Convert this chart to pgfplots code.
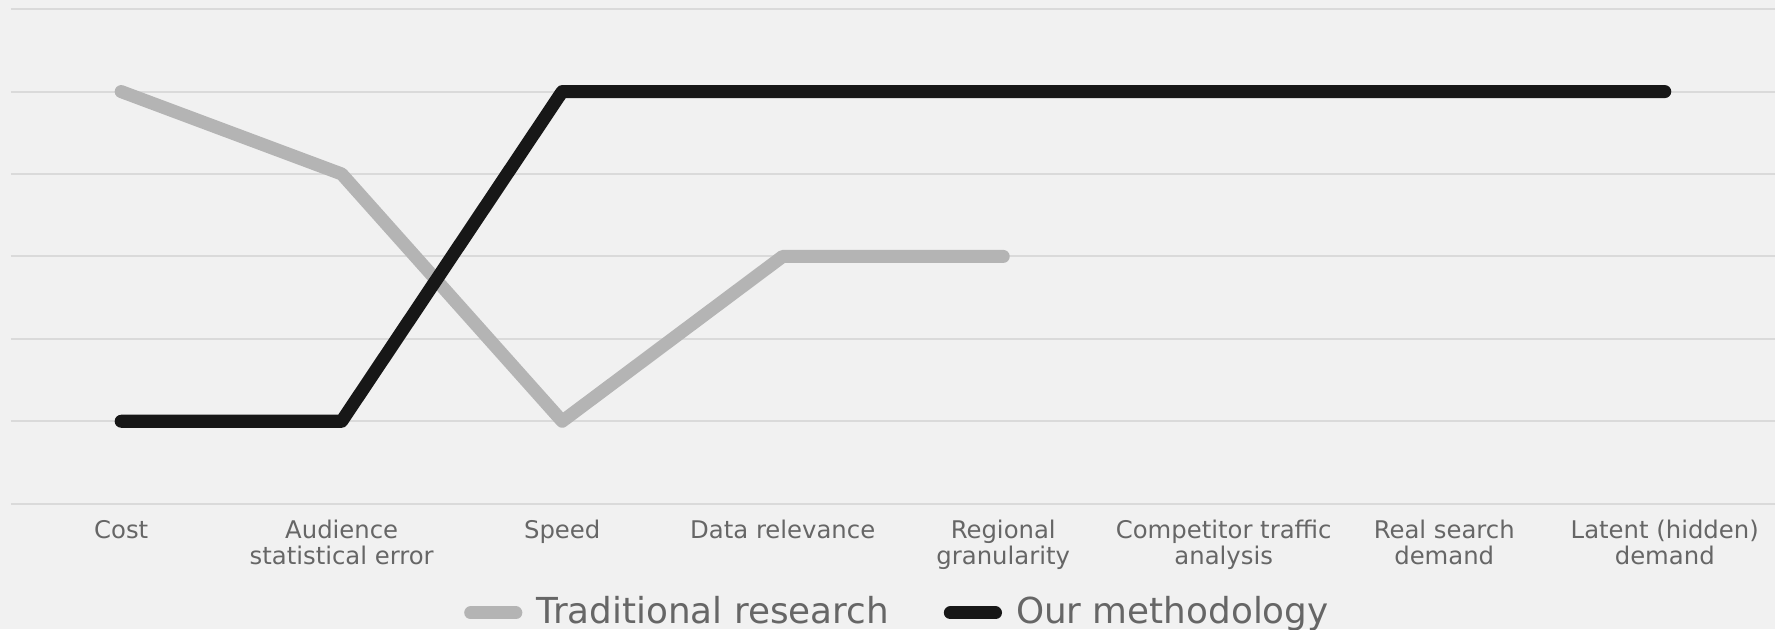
\documentclass[border=0pt]{standalone}
\usepackage{fontspec}
\setmainfont{DejaVu Sans}
\usepackage{pgfplots}
\pgfplotsset{compat=1.18}
\usetikzlibrary{calc,backgrounds}
\definecolor{bg}{HTML}{F1F1F1}
\definecolor{gridc}{HTML}{DADADA}
\definecolor{trad}{HTML}{B4B4B4}
\definecolor{ours}{HTML}{171717}
\definecolor{txt}{HTML}{666666}
\begin{document}
\begin{tikzpicture}
\begin{axis}[
  name=ax, at={(0,0)}, anchor=south west,
  scale only axis, width=500.5pt, height=140.3pt,
  xmin=-0.5, xmax=7.5, ymin=0, ymax=6,
  xtick={0,...,7},
  xticklabels={Cost,{Audience\\statistical error},Speed,Data relevance,{Regional\\granularity},{Competitor traffic\\analysis},{Real search\\demand},{Latent (hidden)\\demand}},
  ytick={0,...,6}, yticklabels={},
  ymajorgrids, grid style={gridc, line width=0.6pt},
  axis line style={draw=none}, major tick length=0pt,
  xticklabel style={align=center, font=\fontsize{6.9}{7.4}\selectfont, text=txt, inner sep=0pt, yshift=-4.5pt},
  legend columns=2,
  legend style={draw=none, fill=none, at={(0.504,-0.221)}, anchor=center, font=\fontsize{10.15}{10.5}\selectfont, text=txt, inner sep=0pt,
    /tikz/every even column/.append style={column sep=13.6pt}},
  legend image code/.code={\draw[#1, line cap=round] (1.85pt,0pt) -- (14.65pt,0pt); \path[draw=none, fill=none, line width=0pt] (0pt,0pt) -- (18.5pt,0pt);},
]
\addplot[trad, line width=3.7pt, line cap=round, line join=round] coordinates {(0,5) (1,4) (2,1) (3,3) (4,3)};
\addlegendentry{Traditional research}
\addplot[ours, line width=3.7pt, line cap=round, line join=round] coordinates {(0,1) (1,1) (2,5) (3,5) (4,5) (5,5) (6,5) (7,5)};
\addlegendentry{Our methodology}
\end{axis}
\begin{scope}[on background layer]
\fill[bg] ($(ax.south west)+(-3.1pt,-35.6pt)$) rectangle ($(ax.north east)+(0,2.6pt)$);
\end{scope}
\pgfresetboundingbox
\path ($(ax.south west)+(-3.1pt,-35.6pt)$) rectangle ($(ax.north east)+(0,2.6pt)$);
\end{tikzpicture}
\end{document}
